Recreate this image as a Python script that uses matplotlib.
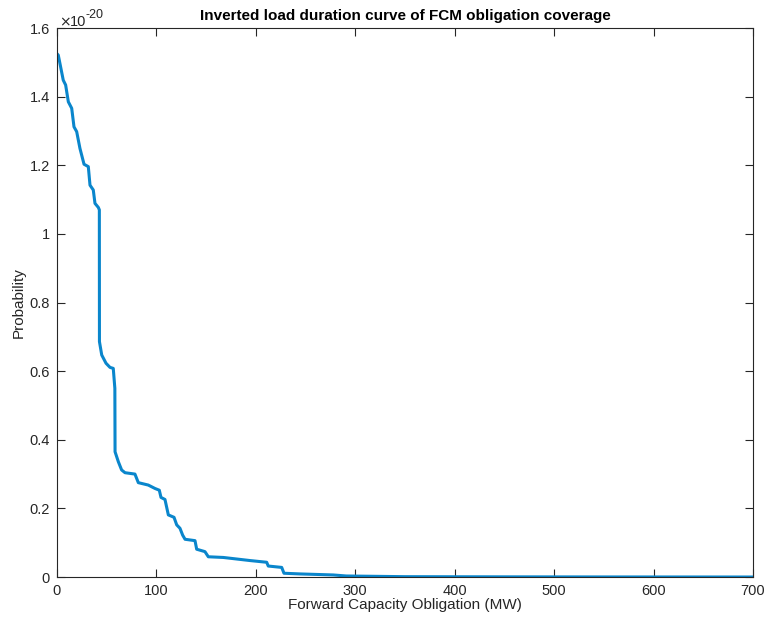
import matplotlib.pyplot as plt
from matplotlib.ticker import FuncFormatter

# Forward capacity obligation (MW) and probability (units of 1e-20)
fco_mw = [0, 1.3, 6.3, 8.7, 11.4, 14.8, 17.1, 19.8, 23.1, 27.2, 31.5, 33.2, 36.5,
          38.2, 41.6, 42.6, 42.7, 45, 49.3, 53.3, 56.6, 58.2, 58.4, 61.7, 65,
          68.4, 78.4, 81.8, 91.8, 98.6, 102.9, 104.6, 108.6, 112, 117.7, 120.4,
          123.7, 126.4, 128.8, 138.8, 140.5, 148.8, 152.2, 167.3, 194.1, 210.9,
          212.5, 226, 228.3, 244.4, 277.9, 291, 350, 450, 550, 700]
prob = [1.525, 1.521, 1.448, 1.434, 1.385, 1.366, 1.312, 1.298, 1.249, 1.203,
        1.196, 1.142, 1.128, 1.089, 1.077, 1.07, 0.686, 0.647, 0.623, 0.611,
        0.608, 0.55, 0.365, 0.336, 0.312, 0.304, 0.300, 0.275, 0.268, 0.258,
        0.253, 0.232, 0.226, 0.181, 0.174, 0.152, 0.142, 0.122, 0.110, 0.106,
        0.081, 0.074, 0.059, 0.057, 0.048, 0.043, 0.032, 0.028, 0.011, 0.009,
        0.006, 0.003, 0.001, 0.0005, 0.0002, 0.0]

plt.rcParams['font.family'] = ['Liberation Sans', 'DejaVu Sans']

fig = plt.figure(figsize=(7.66, 6.17), dpi=100)
ax = fig.add_axes([0.0744, 0.0648, 0.9086, 0.8898])

ax.plot(fco_mw, prob, color='#0a86cc', linewidth=2.2)

ax.set_xlim(0, 700)
ax.set_ylim(0, 1.6)
ax.set_xticks(range(0, 701, 100))
ax.set_yticks([0, 0.2, 0.4, 0.6, 0.8, 1.0, 1.2, 1.4, 1.6])
fmt = FuncFormatter(lambda v, p: '%g' % round(v, 3))
ax.xaxis.set_major_formatter(fmt)
ax.yaxis.set_major_formatter(fmt)
ax.tick_params(direction='in', length=6, width=0.8, top=True, right=True,
               labelsize=10.5, colors='#262626', pad=5)
for s in ax.spines.values():
    s.set_linewidth(0.8)
    s.set_color('#262626')

# exponent label in the MATLAB style (x10^-20)
W, H = 766, 617
fig.text(59 / W, 1 - 26 / H, '\u00d7', family='DejaVu Sans', fontsize=10,
         color='#262626', ha='left', va='baseline')
fig.text(70 / W, 1 - 26 / H, '10', fontsize=10.5, color='#262626',
         ha='left', va='baseline')
fig.text(85 / W, 1 - 18 / H, '-20', fontsize=9, color='#262626',
         ha='left', va='baseline')

ax.set_title('Inverted load duration curve of FCM obligation coverage',
             fontsize=11, fontweight='bold', pad=6)
ax.set_xlabel('Forward Capacity Obligation (MW)', fontsize=11, labelpad=0, color='#262626')
ax.set_ylabel('Probability', fontsize=11, labelpad=3, color='#262626')

plt.savefig('out.png', dpi=100)
